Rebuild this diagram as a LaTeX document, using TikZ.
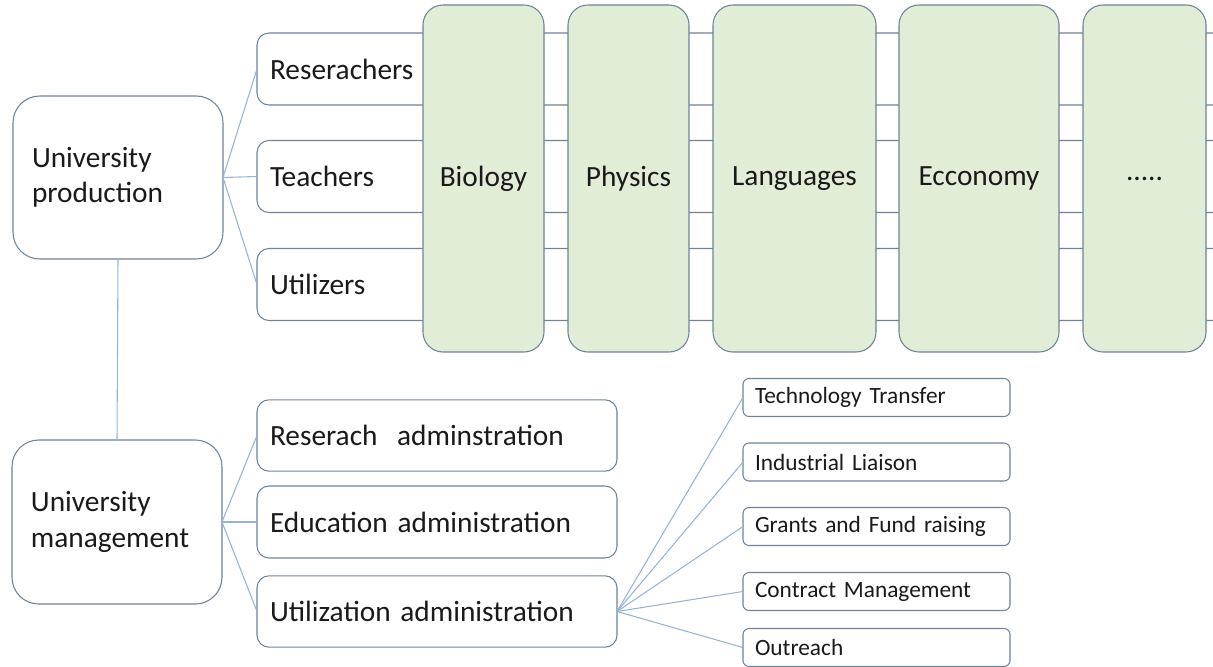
\documentclass[tikz,border=0pt]{standalone}
\usepackage{fontspec}
\setmainfont{Carlito}
\definecolor{bordercol}{HTML}{6E8498}
\definecolor{linkcol}{HTML}{96B4D2}
\definecolor{greenfill}{HTML}{E2EDD8}
\definecolor{textcol}{HTML}{1A1A1A}
\newcommand{\bigfont}{\fontsize{22}{26.5}\selectfont\spaceskip=0.17em\relax}
\newcommand{\smallfont}{\fontsize{17.5}{20}\selectfont\spaceskip=0.15em\relax}
\begin{document}
\begin{tikzpicture}[x=0.75pt,y=-0.75pt,
  every node/.style={text=textcol, inner sep=0pt, outer sep=0pt},
  bigbox/.style={draw=bordercol, line width=0.8pt, fill=white, rounded corners=20pt,
     minimum width=157.5pt, text width=129pt, align=left, font=\bigfont},
  rowbox/.style={draw=bordercol, line width=0.8pt, fill=white, rounded corners=9pt,
     minimum width=782.25pt, minimum height=54pt, text width=762.75pt, align=left, font=\bigfont},
  greenbox/.style={draw=bordercol, line width=0.8pt, fill=greenfill, rounded corners=15pt,
     minimum height=260.25pt, align=center, font=\bigfont},
  adminbox/.style={draw=bordercol, line width=0.8pt, fill=white, rounded corners=9pt,
     minimum width=270pt, minimum height=53.5pt, text width=250.5pt, align=left, font=\bigfont},
  smallbox/.style={draw=bordercol, line width=0.8pt, fill=white, rounded corners=4.5pt,
     minimum width=200.25pt, minimum height=28.5pt, text width=182.25pt, align=left, font=\smallfont},
  link/.style={draw=linkcol, line width=0.8pt}
]
\useasboundingbox (0,0) rectangle (1213,667);
\begin{scope}
\clip (0,0) rectangle (1213,667);
% row boxes
\node[rowbox] (res) at (778.5,69) {Reserachers};
\node[rowbox] (tea) at (778.5,176.5) {Teachers};
\node[rowbox] (uti) at (778.5,284.5) {Utilizers};
% green department boxes
\node[greenbox, minimum width=90.75pt] (bio) at (483.5,178.5) {Biology};
\node[greenbox, minimum width=90.75pt] (phy) at (628.5,178.5) {Physics};
\node[greenbox, minimum width=122.25pt] (lan) at (794.5,178.5) {Languages};
\node[greenbox, minimum width=120pt] (eco) at (979,178.5) {Ecconomy};
\node[greenbox, minimum width=92.25pt] (dots) at (1144.5,178.5) {.....};
\end{scope}
% main boxes
\node[bigbox, minimum height=122.25pt] (prod) at (118,177.5) {University\\production};
\node[bigbox, minimum height=123pt] (mgmt) at (117,522) {University\\management};
% admin boxes
\node[adminbox] (radm) at (437,435.5) {Reserach\ \ adminstration};
\node[adminbox, minimum height=54pt] (eadm) at (437,522) {Education administration};
\node[adminbox] (uadm) at (437,611.5) {Utilization administration};
% small boxes
\node[smallbox] (tt) at (876.5,397.5) {Technology Transfer};
\node[smallbox] (il) at (876.5,462) {Industrial Liaison};
\node[smallbox] (gf) at (876.5,526.5) {Grants and Fund raising};
\node[smallbox] (cm) at (876.5,591.5) {Contract Management};
\node[smallbox] (out) at (876.5,647.5) {Outreach};
% connectors
\draw[link] (prod.east) -- (res.west);
\draw[link] (prod.east) -- (tea.west);
\draw[link] (prod.east) -- (uti.west);
\draw[link] (prod.south) -- (mgmt.north);
\draw[link] (mgmt.east) -- (radm.west);
\draw[link] (mgmt.east) -- (eadm.west);
\draw[link] (mgmt.east) -- (uadm.west);
\draw[link] (uadm.east) -- (tt.west);
\draw[link] (uadm.east) -- (il.west);
\draw[link] (uadm.east) -- (gf.west);
\draw[link] (uadm.east) -- (cm.west);
\draw[link] (uadm.east) -- (out.west);
\end{tikzpicture}
\end{document}
